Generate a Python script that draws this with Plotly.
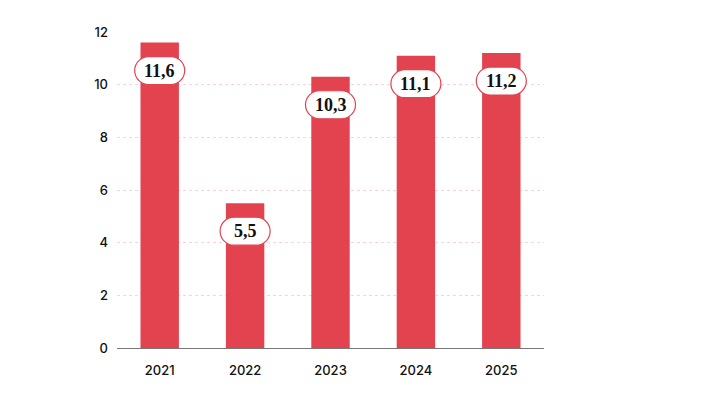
import plotly.graph_objects as go

years = ["2021", "2022", "2023", "2024", "2025"]
values = [11.6, 5.5, 10.3, 11.1, 11.2]
labels = ["11,6", "5,5", "10,3", "11,1", "11,2"]

BAR = "#e2434f"

fig = go.Figure()
fig.add_trace(go.Bar(x=years, y=values, marker=dict(color=BAR, line=dict(width=0)),
                     width=0.45, hoverinfo="skip"))

# rounded pill path in pixel units, centred 28 px below bar top
w, h, r = 50, 28, 14
cy = -28
x0, x1 = -w / 2, w / 2
yt, yb = cy + h / 2, cy - h / 2
k = r * 0.5523
pill = (
    f"M{x0 + r},{yt} L{x1 - r},{yt} "
    f"C{x1 - r + k},{yt} {x1},{cy + k} {x1},{cy} "
    f"C{x1},{cy - k} {x1 - r + k},{yb} {x1 - r},{yb} "
    f"L{x0 + r},{yb} "
    f"C{x0 + r - k},{yb} {x0},{cy - k} {x0},{cy} "
    f"C{x0},{cy + k} {x0 + r - k},{yt} {x0 + r},{yt} Z"
)

for i, (v, lab) in enumerate(zip(values, labels)):
    fig.add_shape(type="path", xref="x", yref="y", xsizemode="pixel", ysizemode="pixel",
                  xanchor=i, yanchor=v, path=pill,
                  fillcolor="white", line=dict(color=BAR, width=1.2), layer="above")
    fig.add_annotation(x=i, y=v, xref="x", yref="y", text=f"<b>{lab}</b>", showarrow=False,
                       yshift=cy, font=dict(family="Liberation Serif", size=18, color="#111"))

fig.update_layout(
    width=701, height=400,
    margin=dict(l=109, r=165, t=24, b=60),
    paper_bgcolor="white", plot_bgcolor="white",
    showlegend=False,
    bargap=0.55,
    font=dict(family="Inter", size=13, color="#111"),
)
tf = dict(family="Inter", size=13, color="#111", weight=500)
fig.update_xaxes(type="category", range=[-0.5, len(years) - 0.5], autorange=False,
                 showgrid=False, showline=True, linecolor="#777", linewidth=1,
                 ticks="", tickfont=tf, ticklabelstandoff=10)
fig.update_yaxes(range=[0, 12], autorange=False, tickvals=[0, 2, 4, 6, 8, 10, 12], showgrid=True,
                 gridcolor="#f9d3d9", griddash="dot", gridwidth=1, zeroline=False,
                 showline=False, ticks="", tickfont=tf, ticklabelstandoff=8)

fig.write_html("out.html")
